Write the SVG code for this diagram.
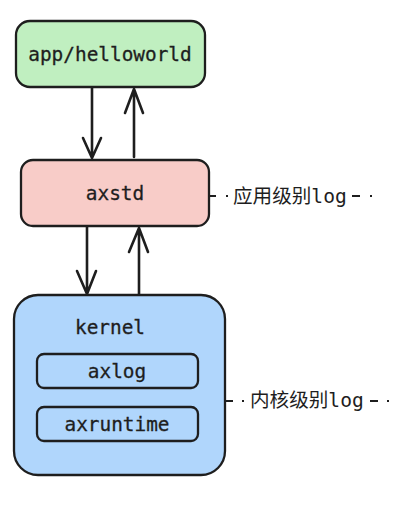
<svg xmlns="http://www.w3.org/2000/svg" width="420" height="506" viewBox="0 0 420 506">
<style>
.box{stroke:#1e1e1e;stroke-width:2.3;}
.t{font-family:"DejaVu Sans Mono","Liberation Mono","Noto Sans CJK SC",monospace;font-size:19.4px;fill:#1e1e1e;text-anchor:middle;dominant-baseline:central;stroke:#1e1e1e;stroke-width:0.3;}
.lbl{font-family:"DejaVu Sans Mono","Noto Sans CJK SC",monospace;font-size:19.6px;fill:#1e1e1e;dominant-baseline:central;}
.ln{stroke:#1e1e1e;stroke-width:2.6;fill:none;stroke-linecap:round;stroke-linejoin:round;}
.dl{stroke:#1e1e1e;stroke-width:2;fill:none;}
</style>
<rect width="420" height="506" fill="#ffffff"/>
<g id="app">
<rect class="box" x="16" y="21" width="189" height="66" rx="14" fill="#c0efc0"/>
<text class="t" x="110" y="54">app/helloworld</text>
</g>
<g id="axstd">
<rect class="box" x="21" y="160" width="188" height="66" rx="12" fill="#f8ccc8"/>
<text class="t" x="115" y="193">axstd</text>
</g>
<g id="kernel">
<rect class="box" x="14" y="295" width="211" height="180" rx="24" fill="#b0d6fc"/>
<text class="t" x="110" y="327">kernel</text>
</g>
<g id="axlog">
<rect class="box" x="37" y="354" width="161" height="34" rx="7" fill="#b0d6fc"/>
<text class="t" x="117" y="371">axlog</text>
</g>
<g id="axruntime">
<rect class="box" x="37" y="407" width="161" height="34" rx="7" fill="#b0d6fc"/>
<text class="t" x="117" y="424">axruntime</text>
</g>
<g id="connectors">
<path class="ln" d="M92 88 L92 157 M83 138 L92 158 L101 138"/>
<path class="ln" d="M134 157 L134 89 M125 113 L134 89 L143 113"/>
<path class="ln" d="M87 227 L87 293 M77 271 L87 294 L96 271"/>
<path class="ln" d="M139 294 L139 228 M129 252 L139 228 L148 252"/>
<path class="dl" d="M209 196 L216 196 M226 196 L228 196 M352 196 L360 196 M370 196 L372 196"/>
<path class="dl" d="M226 401 L233 401 M242 401 L244 401 M370 401 L378 401 M387 401 L389 401"/>
</g>
<g id="labels">
<text class="lbl" x="233" y="196">应用级别log</text>
<text class="lbl" x="250" y="400">内核级别log</text>
</g>
</svg>
